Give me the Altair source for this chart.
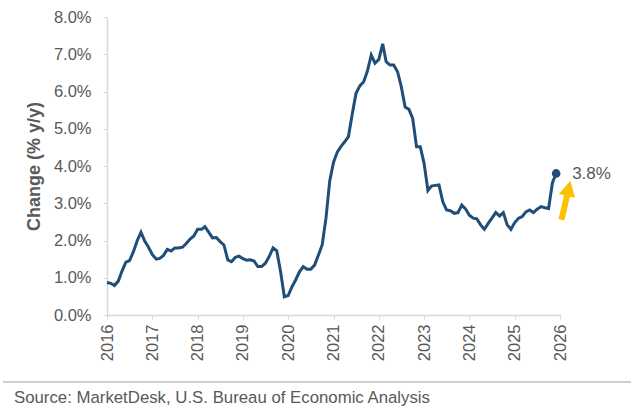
import altair as alt
import pandas as pd

# Monthly y/y change (%), Jan 2016 .. Dec 2025
values = [
    0.87, 0.85, 0.79, 0.91, 1.18, 1.42, 1.46, 1.70, 2.00, 2.22, 1.98, 1.82,   # 2016
    1.62, 1.50, 1.52, 1.60, 1.76, 1.72, 1.80, 1.80, 1.82, 1.92, 2.04, 2.12,   # 2017
    2.30, 2.30, 2.37, 2.22, 2.07, 2.08, 1.97, 1.88, 1.48, 1.43, 1.55, 1.58,   # 2018
    1.51, 1.47, 1.48, 1.45, 1.30, 1.30, 1.39, 1.57, 1.80, 1.72, 1.16, 0.49,   # 2019
    0.52, 0.76, 0.94, 1.16, 1.30, 1.23, 1.23, 1.34, 1.61, 1.88, 2.60, 3.60,   # 2020
    4.10, 4.38, 4.52, 4.65, 4.79, 5.40, 5.95, 6.15, 6.26, 6.55, 6.98, 6.76,   # 2021
    6.86, 7.28, 6.80, 6.71, 6.71, 6.53, 6.13, 5.58, 5.52, 5.28, 4.52, 4.52,   # 2022
    4.07, 3.34, 3.46, 3.48, 3.49, 3.04, 2.82, 2.80, 2.73, 2.75, 2.95, 2.85,   # 2023
    2.68, 2.60, 2.58, 2.42, 2.30, 2.46, 2.60, 2.75, 2.66, 2.75, 2.42, 2.30,   # 2024
    2.48, 2.60, 2.64, 2.77, 2.82, 2.75, 2.84, 2.91, 2.88, 2.86, 3.55, 3.80,   # 2025
]
start_month = "2016-01-01"
year_ticks = list(range(2016, 2027))
y_ticks = [0, 1, 2, 3, 4, 5, 6, 7, 8]
last_label = "3.8%"
y_title = "Change (% y/y)"
source_text = "Source: MarketDesk, U.S. Bureau of Economic Analysis"

# annotation arrow anchor (data coordinates)
arrow_date = ["2026-02-18"]
arrow_value = [3.08]

LINE_COLOR = "#1f4e79"
TEXT_COLOR = "#595959"
AXIS_COLOR = "#d9d9d9"
ARROW_COLOR = "#ffc000"
FONT = "Liberation Sans"

dates = pd.date_range(start_month, periods=len(values), freq="MS")
df = pd.DataFrame({"date": dates, "value": values})
last_df = df.tail(1).assign(label=last_label)
arrow_df = pd.DataFrame({"date": pd.to_datetime(arrow_date), "value": arrow_value})

x_scale = alt.Scale(domain=[alt.DateTime(year=2016, month=1, date=1),
                            alt.DateTime(year=2026, month=1, date=1)])
y_scale = alt.Scale(domain=[0, 8], nice=False)

x_enc = alt.X(
    "date:T", scale=x_scale, title=None,
    axis=alt.Axis(
        values=[alt.DateTime(year=y, month=1, date=1) for y in year_ticks],
        tickCount=len(year_ticks) + 2,
        format="%Y", labelAngle=270, labelFontSize=16.5, labelColor=TEXT_COLOR,
        labelFont=FONT, labelPadding=5, tickSize=4, tickColor=AXIS_COLOR,
        domainColor=AXIS_COLOR, domainWidth=1.5, grid=False, labelFlush=False,
        labelOverlap=False,
    ),
)
y_enc = alt.Y(
    "value:Q", scale=y_scale, title=y_title,
    axis=alt.Axis(
        values=y_ticks, tickCount=len(y_ticks) + 2,
        labelExpr="format(datum.value, '.1f') + '%'",
        labelFontSize=16.5, labelColor=TEXT_COLOR, labelFont=FONT, labelPadding=12,
        labelOverlap=False, labelFlush=False,
        tickSize=4, tickColor=AXIS_COLOR, domainColor=AXIS_COLOR, domainWidth=1.5,
        grid=False, titleFont=FONT, titleFontSize=18, titleFontWeight="bold",
        titleColor=TEXT_COLOR, titlePadding=10,
    ),
)

line = alt.Chart(df).mark_line(color=LINE_COLOR, strokeWidth=3).encode(x=x_enc, y=y_enc)

dot = alt.Chart(last_df).mark_point(
    filled=True, color=LINE_COLOR, size=75, opacity=1
).encode(x="date:T", y="value:Q")

label = alt.Chart(last_df).mark_text(
    align="left", baseline="middle", dx=16, dy=1, fontSize=17, color=TEXT_COLOR, font=FONT
).encode(x="date:T", y="value:Q", text="label:N")

arrow_path = "M -0.15 1 L 0.15 1 L 0.15 -0.22 L 0.42 -0.22 L 0 -1 L -0.42 -0.22 L -0.15 -0.22 Z"
arrow = alt.Chart(arrow_df).mark_point(
    shape=arrow_path, filled=True, color=ARROW_COLOR, size=1600, angle=13,
    opacity=1, strokeWidth=0,
).encode(x="date:T", y="value:Q")

divider = alt.Chart(pd.DataFrame({"k": [0]})).mark_rule(
    color="#bfbfbf", strokeWidth=1.5
).encode(x=alt.value(-104), x2=alt.value(524), y=alt.value(365))

source = alt.Chart(pd.DataFrame({"t": [source_text]})).mark_text(
    align="left", baseline="middle", fontSize=16.8, color=TEXT_COLOR, font=FONT
).encode(x=alt.value(-93), y=alt.value(381), text="t:N")

chart = alt.layer(line, dot, label, arrow, divider, source).properties(
    width=453, height=298,
    autosize=alt.AutoSizeParams(type="none"),
    padding={"left": 107, "top": 17, "right": 79, "bottom": 103},
    background="white",
).configure_view(stroke=None)

chart.save("out.html", embed_options={"renderer": "svg", "actions": False})
